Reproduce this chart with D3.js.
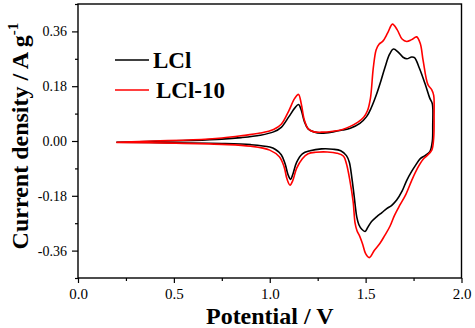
<!DOCTYPE html>
<html>
<head>
<meta charset="utf-8">
<script src="https://cdn.jsdelivr.net/npm/d3@7"></script>
<style>
  body { margin: 0; background: #fff; }
  svg text { font-family: "Liberation Serif", "Times New Roman", serif; }
</style>
</head>
<body>
<div id="chart"></div>
<script>
let width = 475;
let height = 328;

// LCl loop: forward (anodic) branch then back (cathodic) branch
let lclV = [0.20, 0.40, 0.60, 0.75, 0.85, 0.95, 1.02, 1.06, 1.10, 1.13, 1.15, 1.165, 1.18, 1.20, 1.23, 1.27, 1.33, 1.38, 1.42, 1.47, 1.505, 1.53, 1.555, 1.575, 1.60, 1.625, 1.645, 1.67, 1.695, 1.715, 1.74, 1.755, 1.78, 1.81, 1.835, 1.848,
    1.850, 1.848, 1.835, 1.81, 1.785, 1.76, 1.74, 1.714, 1.69, 1.662, 1.635, 1.61, 1.585, 1.557, 1.53, 1.51, 1.497, 1.48, 1.465, 1.454, 1.44, 1.428, 1.415, 1.40, 1.37, 1.33, 1.27, 1.21, 1.17, 1.14, 1.12, 1.109, 1.095, 1.08, 1.06, 1.03, 1.00, 0.90, 0.75, 0.50, 0.20];
let lclI = [-0.004, -0.001, 0.002, 0.006, 0.011, 0.019, 0.030, 0.045, 0.080, 0.108, 0.120, 0.100, 0.065, 0.040, 0.030, 0.026, 0.030, 0.036, 0.042, 0.058, 0.080, 0.110, 0.150, 0.188, 0.240, 0.285, 0.302, 0.292, 0.275, 0.270, 0.276, 0.274, 0.240, 0.188, 0.140, 0.122,
    0.050, 0.000, -0.035, -0.048, -0.058, -0.080, -0.100, -0.130, -0.165, -0.194, -0.212, -0.222, -0.235, -0.249, -0.265, -0.285, -0.297, -0.290, -0.275, -0.250, -0.180, -0.120, -0.070, -0.048, -0.032, -0.027, -0.026, -0.032, -0.042, -0.070, -0.110, -0.126, -0.110, -0.075, -0.045, -0.028, -0.020, -0.012, -0.008, -0.006, -0.004];

// LCl-10 loop
let lcl10V = [0.20, 0.40, 0.60, 0.75, 0.85, 0.95, 1.02, 1.06, 1.10, 1.13, 1.15, 1.165, 1.18, 1.20, 1.23, 1.27, 1.33, 1.38, 1.42, 1.46, 1.49, 1.51, 1.525, 1.54, 1.555, 1.57, 1.59, 1.615, 1.64, 1.665, 1.69, 1.714, 1.74, 1.766, 1.785, 1.80, 1.825, 1.845, 1.855,
    1.857, 1.855, 1.845, 1.82, 1.80, 1.77, 1.74, 1.71, 1.679, 1.65, 1.627, 1.60, 1.575, 1.545, 1.519, 1.50, 1.485, 1.47, 1.455, 1.445, 1.435, 1.418, 1.40, 1.385, 1.35, 1.30, 1.24, 1.20, 1.17, 1.14, 1.12, 1.106, 1.09, 1.075, 1.05, 1.00, 0.90, 0.75, 0.50, 0.20];
let lcl10I = [-0.004, 0.000, 0.004, 0.010, 0.017, 0.026, 0.038, 0.055, 0.100, 0.140, 0.153, 0.120, 0.070, 0.040, 0.030, 0.029, 0.032, 0.038, 0.048, 0.062, 0.078, 0.100, 0.140, 0.240, 0.300, 0.318, 0.328, 0.355, 0.384, 0.365, 0.335, 0.327, 0.333, 0.342, 0.320, 0.264, 0.185, 0.168, 0.150,
    0.080, 0.010, -0.030, -0.048, -0.060, -0.090, -0.130, -0.175, -0.210, -0.245, -0.280, -0.310, -0.336, -0.360, -0.383, -0.370, -0.340, -0.314, -0.295, -0.270, -0.200, -0.130, -0.075, -0.050, -0.040, -0.036, -0.037, -0.042, -0.058, -0.090, -0.130, -0.145, -0.125, -0.085, -0.052, -0.030, -0.017, -0.011, -0.007, -0.005];

let xTicks = [0.0, 0.5, 1.0, 1.5, 2.0];
let xMinor = [0.25, 0.75, 1.25, 1.75];
let yTicks = [-0.36, -0.18, 0.00, 0.18, 0.36];
let yMinor = [-0.45, -0.27, -0.09, 0.09, 0.27, 0.45];

let seriesNames = ["LCl", "LCl-10"];
let seriesColors = ["#000000", "#ff0000"];

let margin = {left: 78, right: 13.5, top: 4, bottom: 50};
let plotW = width - margin.left - margin.right;
let plotH = height - margin.top - margin.bottom;

let svg = d3.select("#chart").append("svg")
    .attr("width", width)
    .attr("height", height);

let x = d3.scaleLinear().domain([0, 2]).range([margin.left, margin.left + plotW]);
let y = d3.scaleLinear().domain([-0.45, 0.45]).range([margin.top + plotH, margin.top]);

// curves
let line = d3.line()
    .x(d => x(d[0]))
    .y(d => y(d[1]))
    .curve(d3.curveCatmullRom.alpha(0.5));

let series = [
    d3.zip(lclV, lclI),
    d3.zip(lcl10V, lcl10I)
];

series.forEach((s, i) => {
    svg.append("path")
        .attr("d", line(s))
        .attr("fill", "none")
        .attr("stroke", seriesColors[i])
        .attr("stroke-width", 1.6);
});

// axes
let xAxis = svg.append("g")
    .attr("transform", `translate(0,${margin.top + plotH})`)
    .call(d3.axisBottom(x).tickValues(xTicks).tickSize(5).tickPadding(5).tickFormat(d => d.toFixed(1)));
xAxis.select(".domain").remove();
xAxis.selectAll("text").attr("font-size", "15px").attr("fill", "#000");
xAxis.selectAll("line").attr("stroke-width", 1.2);

let xAxisMinor = svg.append("g")
    .attr("transform", `translate(0,${margin.top + plotH})`)
    .call(d3.axisBottom(x).tickValues(xMinor).tickSize(3).tickFormat(""));
xAxisMinor.select(".domain").remove();
xAxisMinor.selectAll("line").attr("stroke-width", 1.2);

let yAxis = svg.append("g")
    .attr("transform", `translate(${margin.left},0)`)
    .call(d3.axisLeft(y).tickValues(yTicks).tickSize(6).tickPadding(5).tickFormat(d => d.toFixed(2)));
yAxis.select(".domain").remove();
yAxis.selectAll("text").attr("font-size", "14px").attr("fill", "#000");
yAxis.selectAll("line").attr("stroke-width", 1.2);

let yAxisMinor = svg.append("g")
    .attr("transform", `translate(${margin.left},0)`)
    .call(d3.axisLeft(y).tickValues(yMinor).tickSize(3).tickFormat(""));
yAxisMinor.select(".domain").remove();
yAxisMinor.selectAll("line").attr("stroke-width", 1.2);

// frame
svg.append("rect")
    .attr("x", margin.left)
    .attr("y", margin.top)
    .attr("width", plotW)
    .attr("height", plotH)
    .attr("fill", "none")
    .attr("stroke", "#000")
    .attr("stroke-width", 1.4);

// axis titles
svg.append("text")
    .attr("x", margin.left + plotW / 2)
    .attr("y", 324)
    .attr("text-anchor", "middle")
    .attr("font-size", "24px")
    .attr("font-weight", "bold")
    .text("Potential / V");

let yTitle = svg.append("text")
    .attr("transform", "translate(28,136) rotate(-90)")
    .attr("text-anchor", "middle")
    .attr("font-size", "24px")
    .attr("font-weight", "bold");
yTitle.append("tspan").text("Current density / A g");
yTitle.append("tspan")
    .attr("font-size", "15px")
    .attr("dy", "-10")
    .text("-1");

// legend
let legend = svg.append("g");
seriesNames.forEach((name, i) => {
    let ly = 60 + i * 30;
    legend.append("line")
        .attr("x1", 115).attr("x2", 149)
        .attr("y1", ly).attr("y2", ly)
        .attr("stroke", seriesColors[i])
        .attr("stroke-width", 1.6);
    legend.append("text")
        .attr("x", 153 + i * 3)
        .attr("y", ly + 8)
        .attr("font-size", "23px")
        .attr("font-weight", "bold")
        .text(name);
});
</script>
</body>
</html>
